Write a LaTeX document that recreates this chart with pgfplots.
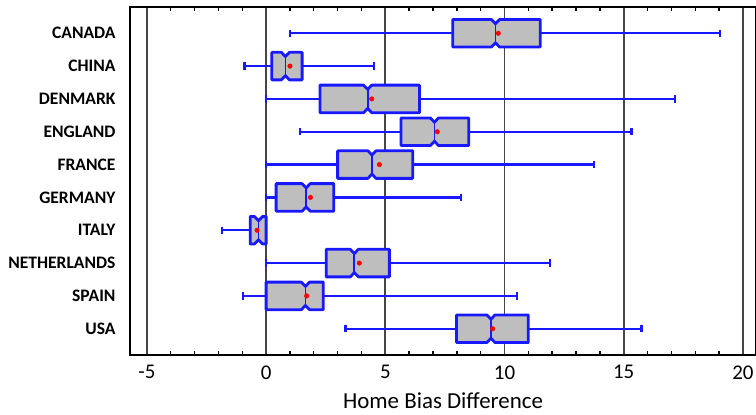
\documentclass[border=0pt]{standalone}
\usepackage{fontspec}
\setmainfont{Carlito}
\usepackage{pgfplots}
\pgfplotsset{compat=1.18}
\definecolor{bxblue}{RGB}{25,25,255}
\definecolor{bxgray}{RGB}{190,190,190}
\definecolor{grd}{RGB}{70,70,70}

% one notched box: y, whisker low, q1, median, mean, q3, whisker high
\newcommand\bx[7]{%
  \pgfmathsetmacro\ya{#1-0.42}\pgfmathsetmacro\yb{#1+0.42}%
  \pgfmathsetmacro\yc{#1-0.29}\pgfmathsetmacro\yd{#1+0.29}%
  \pgfmathsetmacro\ma{#4-0.17}\pgfmathsetmacro\mb{#4+0.17}%
  \pgfmathsetmacro\ca{#1-0.11}\pgfmathsetmacro\cb{#1+0.11}%
  \addplot[whisk] coordinates {(#2,#1) (#7,#1)};
  \addplot[whisk] coordinates {(#2,\ca) (#2,\cb)};
  \addplot[whisk] coordinates {(#7,\ca) (#7,\cb)};
  \addplot[boxst] coordinates {(#3,\ya) (\ma,\ya) (#4,\yc) (\mb,\ya) (#6,\ya)
    (#6,\yb) (\mb,\yb) (#4,\yd) (\ma,\yb) (#3,\yb)} -- cycle;
  \addplot[whisk, line width=1.8pt] coordinates {(#4,\yc) (#4,\yd)};
  \addplot[only marks, mark=*, mark size=2.3pt, color=red] coordinates {(#5,#1)};
}

\begin{document}
\begin{tikzpicture}
\begin{axis}[
  name=ax,
  scale only axis, width=626bp, height=348bp,
  xmin=-5.71, xmax=20.55, ymin=0.2, ymax=10.8, y dir=reverse,
  axis line style={black, line width=1.8pt},
  xtick={-5,0,5,10,15,20}, xticklabels={-5,0,5,10,15,20},
  minor x tick num=4, xtick pos=both,
  xmajorgrids, major grid style={grd, line width=1.8pt},
  tick align=inside, major tick length=0pt,
  minor tick length=4bp, minor tick style={black, line width=1.4pt},
  ytick={1,...,10}, ytick style={draw=none},
  yticklabels={CANADA,CHINA,DENMARK,ENGLAND,FRANCE,GERMANY,ITALY,NETHERLANDS,SPAIN,USA},
  x tick label style={font=\fontsize{21}{21}\selectfont, yshift=-7bp},
  y tick label style={font=\bfseries\fontsize{17.6}{17.6}\selectfont, xshift=-11bp},
  xlabel={Home Bias Difference},
  xlabel style={font=\fontsize{23}{23}\selectfont, yshift=-7bp},
  whisk/.style={color=bxblue, line width=2.2pt, mark=none},
  boxst/.style={draw=bxblue, fill=bxgray, line width=2.8pt, line join=round, mark=none},
]
\bx{1}{1.00}{7.83}{9.62}{9.74}{11.50}{19.05}
\bx{2}{-0.91}{0.24}{0.81}{1.00}{1.51}{4.54}
\bx{3}{0.00}{2.26}{4.26}{4.43}{6.43}{17.16}
\bx{4}{1.43}{5.66}{7.06}{7.18}{8.50}{15.33}
\bx{5}{0.00}{3.00}{4.44}{4.75}{6.15}{13.74}
\bx{6}{0.00}{0.42}{1.68}{1.86}{2.84}{8.18}
\bx{7}{-1.84}{-0.67}{-0.32}{-0.38}{0.00}{0.00}
\bx{8}{0.00}{2.52}{3.70}{3.91}{5.17}{11.92}
\bx{9}{-0.98}{0.00}{1.65}{1.70}{2.40}{10.51}
\bx{10}{3.33}{7.99}{9.43}{9.50}{11.00}{15.75}
\end{axis}
\pgfresetboundingbox
\path[use as bounding box] ([xshift=-130bp,yshift=-60bp]ax.south west) rectangle ([yshift=7bp]ax.north east);
\end{tikzpicture}
\end{document}
